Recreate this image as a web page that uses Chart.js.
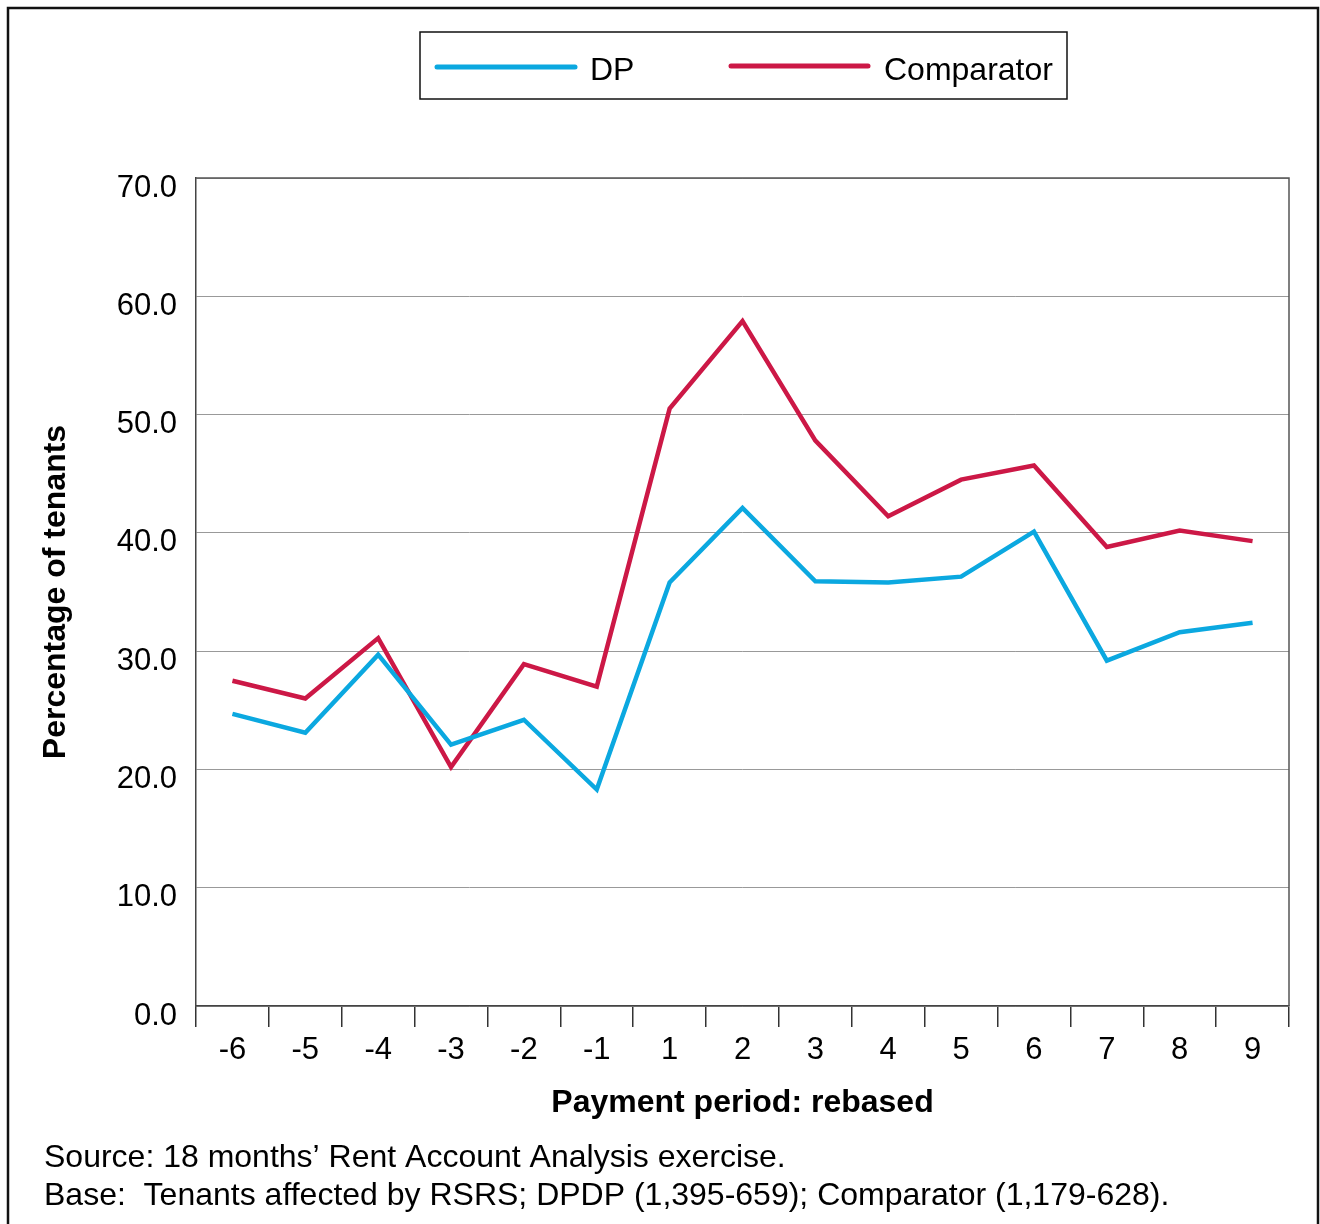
<!DOCTYPE html>
<html>
<head>
<meta charset="utf-8">
<script src="https://cdn.jsdelivr.net/npm/chart.js@4.4.1/dist/chart.umd.min.js"></script>
<style>
  html, body { margin: 0; padding: 0; background: #fff; }
  #wrap { width: 1320px; height: 1224px; }
</style>
</head>
<body>
<div id="wrap"><canvas id="rentChart" width="1320" height="1224"></canvas></div>
<script>
// rebased payment periods
var periods = ['-6','-5','-4','-3','-2','-1','1','2','3','4','5','6','7','8','9'];
// % of tenants
var dpValues = [24.7, 23.1, 29.7, 22.1, 24.2, 18.3, 35.8, 42.1, 35.9, 35.8, 36.3, 40.1, 29.2, 31.6, 32.4];
var comparatorValues = [27.5, 26.0, 31.1, 20.2, 28.9, 27.0, 50.5, 57.9, 47.8, 41.4, 44.5, 45.7, 38.8, 40.2, 39.3];
var seriesNames = ['DP', 'Comparator'];
var seriesColours = ['#0BA8E0', '#CC1846'];
var footnotes = [
    'Source: 18 months\u2019 Rent Account Analysis exercise.',
    'Base:  Tenants affected by RSRS; DPDP (1,395-659); Comparator (1,179-628).'
];

var FONT = '"Liberation Sans", Arial, Helvetica, sans-serif';

// frame, legend box, plot border and footnotes
var extras = {
    id: 'extras',
    afterDraw: function(chart){
        var ctx = chart.ctx, a = chart.chartArea;
        ctx.save();

        // outer frame
        ctx.strokeStyle = '#111';
        ctx.lineWidth = 2.5;
        ctx.beginPath();
        ctx.moveTo(8, 1224); ctx.lineTo(8, 8); ctx.lineTo(1318, 8); ctx.lineTo(1318, 1224);
        ctx.stroke();

        // plot top/right border
        ctx.strokeStyle = '#555';
        ctx.lineWidth = 1.5;
        ctx.beginPath();
        ctx.moveTo(a.left, a.top); ctx.lineTo(a.right, a.top); ctx.lineTo(a.right, a.bottom);
        ctx.stroke();

        // legend
        ctx.strokeStyle = '#111';
        ctx.lineWidth = 1.5;
        ctx.strokeRect(420, 32, 647, 67);
        var items = [{x1:437, x2:575, y:67, tx:590}, {x1:731, x2:868, y:66, tx:884}];
        ctx.font = '32px ' + FONT;
        ctx.textBaseline = 'middle';
        ctx.textAlign = 'left';
        chart.data.datasets.forEach(function(ds, i){
            var it = items[i];
            ctx.strokeStyle = ds.borderColor;
            ctx.lineWidth = 5;
            ctx.lineCap = 'round';
            ctx.beginPath(); ctx.moveTo(it.x1, it.y); ctx.lineTo(it.x2, it.y); ctx.stroke();
            ctx.fillStyle = '#000';
            ctx.fillText(ds.label, it.tx, 71);
        });

        // footnotes
        ctx.font = '32px ' + FONT;
        ctx.fillStyle = '#000';
        ctx.fillText(footnotes[0], 44, 1158);
        ctx.fillText(footnotes[1], 44, 1196);
        ctx.restore();
    }
};

document.addEventListener('DOMContentLoaded', function(){
    new Chart(document.getElementById('rentChart').getContext('2d'), {
        type: 'line',
        data: {
            labels: periods,
            datasets: [
                {label: seriesNames[0], data: dpValues, borderColor: seriesColours[0], borderWidth: 4.5, pointRadius: 0, tension: 0, fill: false},
                {label: seriesNames[1], data: comparatorValues, borderColor: seriesColours[1], borderWidth: 4.5, pointRadius: 0, tension: 0, fill: false}
            ]
        },
        options: {
            responsive: false,
            animation: false,
            events: [],
            layout: {padding: {top: 178, right: 31, bottom: 98, left: 0}},
            plugins: {legend: {display: false}, tooltip: {enabled: false}},
            scales: {
                x: {
                    offset: true,
                    grid: {offset: true, drawOnChartArea: false, drawTicks: true, tickLength: 21, color: '#333', lineWidth: 1.5},
                    border: {color: '#444', width: 1.5},
                    ticks: {color: '#000', font: {family: FONT, size: 31}, padding: 5, maxRotation: 0, autoSkip: false},
                    title: {display: true, text: 'Payment period: rebased', color: '#000', font: {family: FONT, size: 32, weight: 'bold'}, padding: {top: 0, bottom: 4}},
                    afterFit: function(s){ s.height = 120; }
                },
                y: {
                    min: 0, max: 70,
                    grid: {drawTicks: false, color: '#999', lineWidth: 1},
                    border: {color: '#444', width: 1.5},
                    ticks: {stepSize: 10, color: '#000', font: {family: FONT, size: 31}, padding: 19, labelOffset: 10,
                        callback: function(v){ return v.toFixed(1); }},
                    title: {display: true, text: 'Percentage of tenants', color: '#000', font: {family: FONT, size: 32, weight: 'bold'}, padding: {top: 37, bottom: 0}},
                    afterFit: function(s){ s.width = 196; }
                }
            }
        },
        plugins: [extras]
    });
});
</script>
</body>
</html>
